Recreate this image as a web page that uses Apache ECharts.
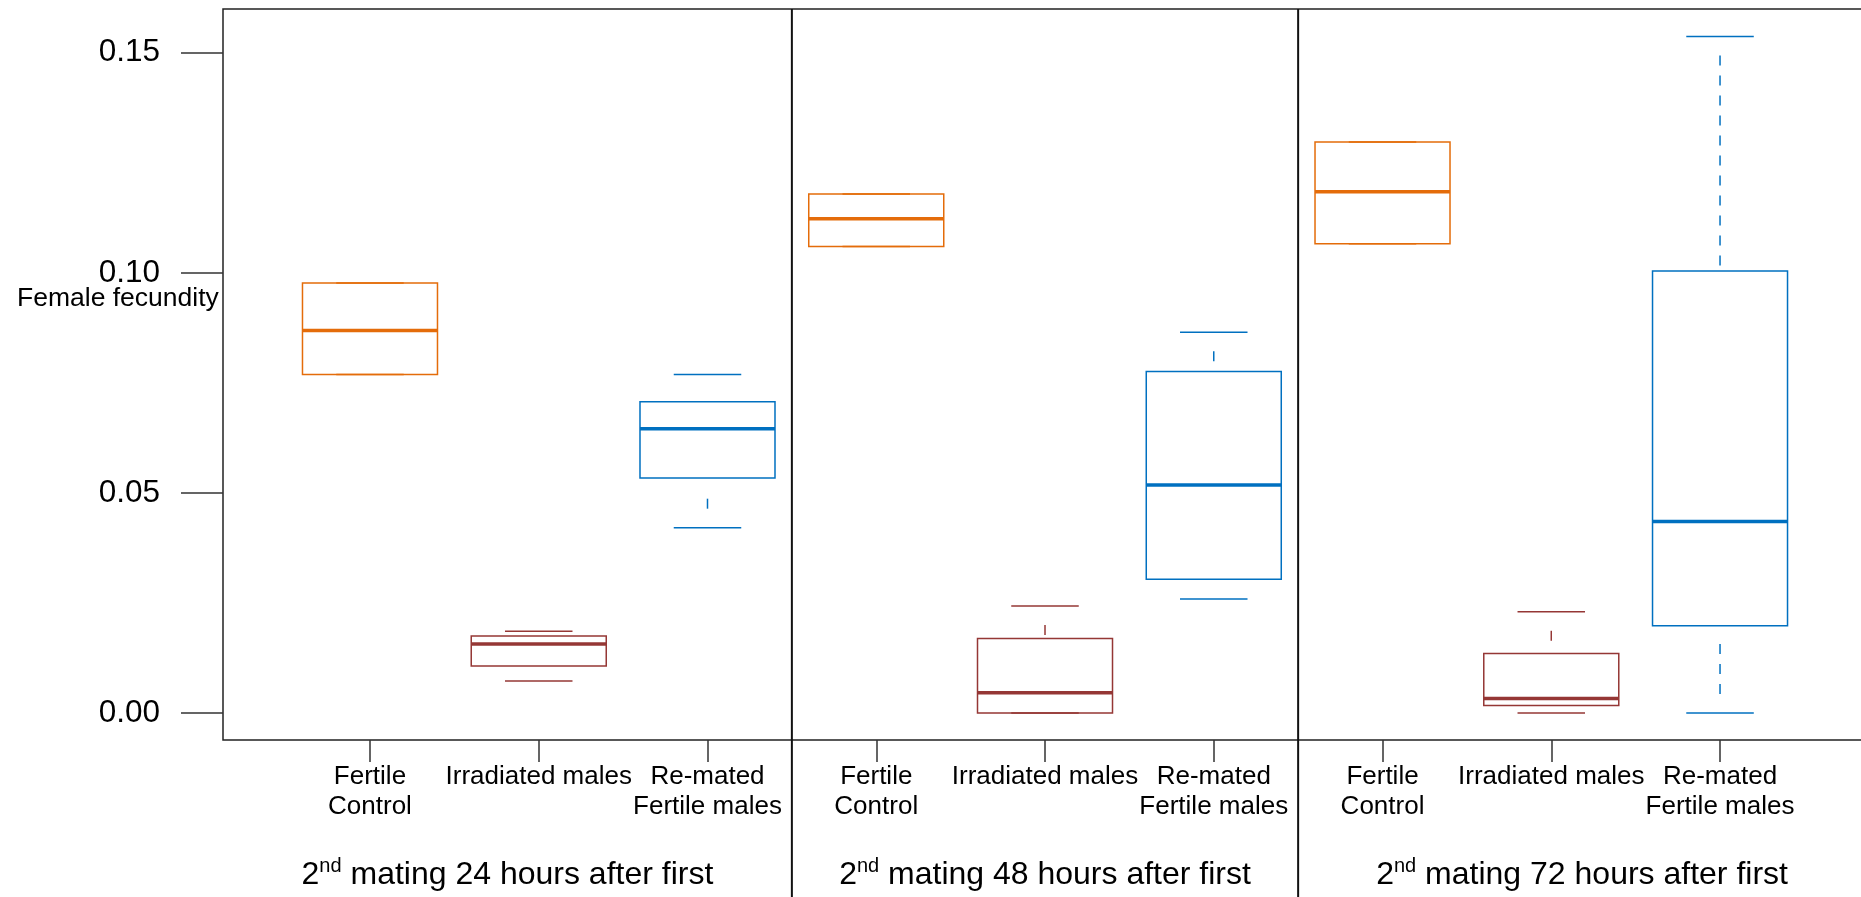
<!DOCTYPE html>
<html>
<head>
<meta charset="utf-8">
<script src="https://cdn.jsdelivr.net/npm/echarts@6/dist/echarts.min.js"></script>
<style>
  html, body { margin: 0; padding: 0; background: #fff; }
  #chart { width: 1861px; height: 897px; }
</style>
</head>
<body>
<div id="chart"></div>
<script>
// ---------------- data ----------------
const categories = ['Fertile\nControl', 'Irradiated males', 'Re-mated\nFertile males'];
const groupHours = ['24', '48', '72'];
const yAxisTitle = 'Female fecundity';
const yTicks = [0, 0.05, 0.10, 0.15];

// [min, Q1, median, Q3, max] for each group (24 h, 48 h, 72 h)
const fertileControl = [
  [0.0769, 0.0769, 0.0869, 0.0977, 0.0977],
  [0.1060, 0.1060, 0.1123, 0.1179, 0.1179],
  [0.1066, 0.1066, 0.1184, 0.1297, 0.1297]
];
const irradiatedMales = [
  [0.0073, 0.0107, 0.0157, 0.0175, 0.0186],
  [0.0000, 0.0000, 0.0046, 0.0169, 0.0243],
  [0.0000, 0.0017, 0.0033, 0.0135, 0.0230]
];
const rematedFertileMales = [
  [0.0421, 0.0534, 0.0646, 0.0707, 0.0769],
  [0.0259, 0.0304, 0.0518, 0.0776, 0.0865],
  [0.0000, 0.0198, 0.0435, 0.1004, 0.1537]
];

// ---------------- build ----------------
const seriesStats = [fertileControl, irradiatedMales, rematedFertileMales];
const colors = ['#E46C0A', '#953735', '#0070C0'];
const FONT = "'Liberation Sans', Arial, Helvetica, sans-serif";

const boxData = [];
groupHours.forEach((g, gi) => {
  seriesStats.forEach((s, ci) => {
    const st = s[gi];
    boxData.push([gi * 3 + ci + 1, st[0], st[1], st[2], st[3], st[4], ci]);
  });
});

const xMin = 0.129, xMax = 9.865;
const yMin = -0.00613, yMax = 0.15993;
const separators = [];
for (let g = 1; g < groupHours.length; g++) separators.push(g * 3 + 0.5);
const bounds = [xMin].concat(separators, [xMax]);
const groupCenters = groupHours.map((g, i) => (bounds[i] + bounds[i + 1]) / 2);
const catPositions = boxData.map(d => d[0]);

function renderBox(params, api) {
  const x = api.value(0);
  const vmin = api.value(1), q1 = api.value(2), med = api.value(3), q3 = api.value(4), vmax = api.value(5);
  const color = colors[api.value(6)];
  const px = (dx, v) => api.coord([x + dx, v]);
  const xl = px(-0.4, 0)[0], xr = px(0.4, 0)[0];
  const cl = px(-0.2, 0)[0], cr = px(0.2, 0)[0];
  const xc = px(0, 0)[0];
  const yq1 = px(0, q1)[1], yq3 = px(0, q3)[1], ym = px(0, med)[1];
  const children = [];
  [vmin, vmax].forEach(v => {
    const y = px(0, v)[1];
    children.push({ type: 'line', shape: { x1: cl, y1: y, x2: cr, y2: y },
      style: { stroke: color, lineWidth: 1.5 } });
  });
  [[vmax, q3], [vmin, q1]].forEach(([cap, hinge]) => {
    const yc = px(0, cap)[1], yh = px(0, hinge)[1];
    const L = Math.abs(yh - yc);
    const dir = yh > yc ? 1 : -1;
    for (let k = 0; 29 + 20 * k <= L - 2; k++) {
      const s = 19 + 20 * k;
      children.push({ type: 'line', shape: { x1: xc, y1: yc + dir * s, x2: xc, y2: yc + dir * (s + 10) },
        style: { stroke: color, lineWidth: 1.5 } });
    }
  });
  children.push({ type: 'rect', shape: { x: xl, y: yq3, width: xr - xl, height: yq1 - yq3 },
    style: { fill: 'rgba(0,0,0,0)', stroke: color, lineWidth: 1.5 } });
  children.push({ type: 'line', shape: { x1: xl, y1: ym, x2: xr, y2: ym },
    style: { stroke: color, lineWidth: 3.5 } });
  return { type: 'group', children };
}

function renderSeparator(params, api) {
  const p = api.coord([api.value(0), yMax]);
  return { type: 'line', shape: { x1: p[0], y1: p[1], x2: p[0], y2: api.getHeight() },
    style: { stroke: '#111', lineWidth: 2 } };
}

const chart = echarts.init(document.getElementById('chart'), null, { renderer: 'canvas' });
chart.setOption({
  animation: false,
  backgroundColor: '#fff',
  title: {
    text: yAxisTitle, left: 17, top: 286, padding: 0,
    textStyle: { fontFamily: FONT, fontSize: 26.5, fontWeight: 'normal', color: '#000', lineHeight: 26 }
  },
  grid: {
    left: 223, top: 9, right: -5, bottom: 157,
    show: true, borderColor: '#222', borderWidth: 1.5, backgroundColor: 'transparent',
    containLabel: false, outerBoundsMode: 'none'
  },
  xAxis: [
    {
      type: 'value', min: xMin, max: xMax, position: 'bottom',
      axisLine: { show: false, onZero: false },
      splitLine: { show: false },
      axisTick: { show: true, customValues: catPositions, length: 22, lineStyle: { color: '#333', width: 1.5 } },
      axisLabel: {
        show: true, customValues: catPositions, margin: 22,
        fontFamily: FONT, fontSize: 26, lineHeight: 30, color: '#000',
        formatter: v => categories[(Math.round(v) - 1) % 3]
      }
    },
    {
      type: 'value', min: xMin, max: xMax, position: 'bottom', gridIndex: 0,
      axisLine: { show: false, onZero: false }, splitLine: { show: false },
      axisTick: { show: false, customValues: groupCenters },
      axisLabel: {
        show: true, customValues: groupCenters, margin: 116, color: '#000',
        formatter: v => {
          let bi = 0, bd = Infinity;
          groupCenters.forEach((c, i) => { const d = Math.abs(c - v); if (d < bd) { bd = d; bi = i; } });
          return '{n|2}{s|nd}{n| mating ' + groupHours[bi] + ' hours after first}';
        },
        rich: {
          n: { fontFamily: FONT, fontSize: 32, lineHeight: 38, color: '#000' },
          s: { fontFamily: FONT, fontSize: 20, lineHeight: 20, verticalAlign: 'top', color: '#000' }
        }
      }
    }
  ],
  yAxis: {
    type: 'value', min: yMin, max: yMax,
    axisLine: { show: false, onZero: false },
    splitLine: { show: false },
    axisTick: { show: true, customValues: yTicks, length: 42, lineStyle: { color: '#333', width: 1.5 } },
    axisLabel: {
      show: true, customValues: yTicks, margin: 63,
      fontFamily: FONT, fontSize: 31.5, color: '#000',
      formatter: v => v.toFixed(2)
    }
  },
  series: [
    {
      type: 'custom', name: 'boxes', xAxisIndex: 0, yAxisIndex: 0,
      data: boxData, renderItem: renderBox, clip: false,
      encode: { x: 0, y: [1, 2, 3, 4, 5] }
    },
    {
      type: 'custom', name: 'separators', xAxisIndex: 0, yAxisIndex: 0,
      data: separators.map(s => [s]), renderItem: renderSeparator, clip: false,
      encode: { x: 0 }, z: 5
    }
  ]
});
</script>
</body>
</html>
